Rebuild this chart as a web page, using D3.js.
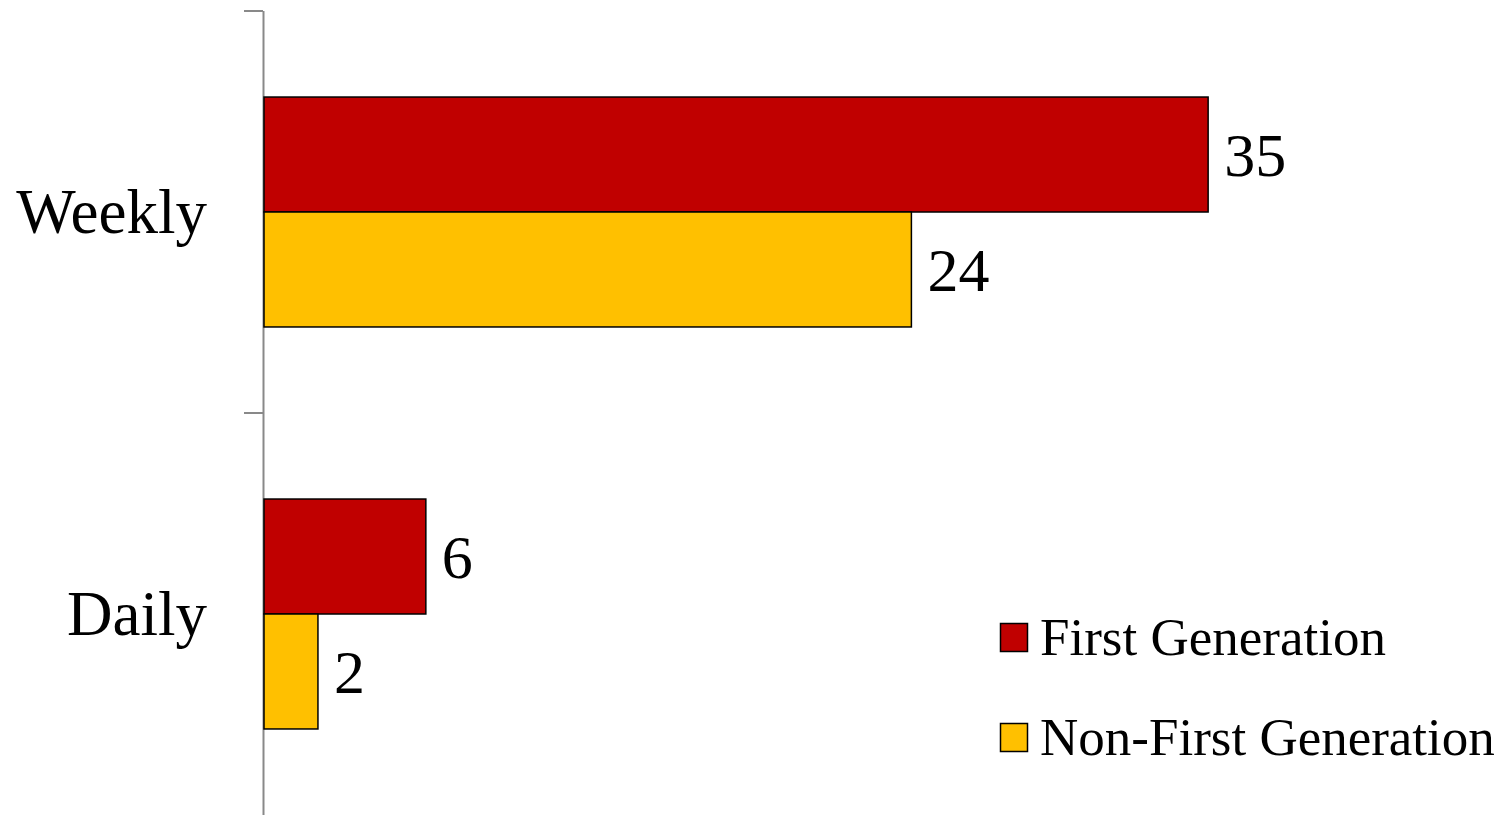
<!DOCTYPE html>
<html><head><meta charset="utf-8">
<script src="https://cdn.jsdelivr.net/npm/d3@7"></script>
<style>html,body{margin:0;padding:0;background:#fff;overflow:hidden}</style>
</head><body>
<svg id="c" width="1503" height="815"></svg>
<script>
const categories = ["Weekly", "Daily"];
const seriesNames = ["First Generation", "Non-First Generation"];
const firstGen = [35, 6];
const nonFirstGen = [24, 2];
const colors = ["#C00000", "#FFC000"];

const svg = d3.select("#c");
const font = "'Liberation Serif','Times New Roman',serif";

const y = d3.scaleBand().domain(categories).range([11, 815]).paddingInner(0.428).paddingOuter(0.214);
const ySub = d3.scaleBand().domain(seriesNames).range([0, y.bandwidth()]);
const x = d3.scaleLinear().domain([0, 40]).range([264, 1343]);

const step = y.step();
const boundaries = categories.map(c => y(c) - y.paddingInner() * step / 2).concat([815]);

// axis
svg.append("line").attr("x1", 263.5).attr("x2", 263.5).attr("y1", 11).attr("y2", 815)
  .attr("stroke", "#898989").attr("stroke-width", 2);
svg.selectAll(".tk").data(boundaries.slice(0, categories.length)).join("line").attr("class", "tk")
  .attr("x1", 244).attr("x2", 263).attr("y1", d => d).attr("y2", d => d)
  .attr("stroke", "#898989").attr("stroke-width", 2);

svg.selectAll(".cat").data(categories).join("text").attr("class", "cat")
  .attr("x", 207)
  .attr("y", (d, i) => (boundaries[i] + boundaries[i + 1]) / 2)
  .attr("dy", "0.33em")
  .attr("text-anchor", "end").attr("font-family", font).attr("font-size", 63).attr("fill", "#000")
  .text(d => d);

const rows = [];
categories.forEach((c, i) => {
  rows.push({cat: c, s: seriesNames[0], v: firstGen[i], col: colors[0]});
  rows.push({cat: c, s: seriesNames[1], v: nonFirstGen[i], col: colors[1]});
});

svg.selectAll(".bar").data(rows).join("rect").attr("class", "bar")
  .attr("x", x(0)).attr("y", d => y(d.cat) + ySub(d.s))
  .attr("width", d => x(d.v) - x(0)).attr("height", ySub.bandwidth())
  .attr("fill", d => d.col).attr("stroke", "#000").attr("stroke-width", 1.5);

svg.selectAll(".lbl").data(rows).join("text").attr("class", "lbl")
  .attr("x", d => x(d.v) + 16).attr("y", d => y(d.cat) + ySub(d.s) + ySub.bandwidth() / 2)
  .attr("dy", "0.35em")
  .attr("font-family", font).attr("font-size", 62).attr("fill", "#000")
  .text(d => d.v);

// legend
const leg = svg.selectAll(".leg").data(seriesNames).join("g").attr("class", "leg")
  .attr("transform", (d, i) => "translate(1000," + (623 + i * 100) + ")");
leg.append("rect").attr("x", 0.5).attr("y", 0.5).attr("width", 27).attr("height", 28)
  .attr("fill", (d, i) => colors[i]).attr("stroke", "#000").attr("stroke-width", 1.5);
leg.append("text").attr("x", 40).attr("y", 32).attr("font-family", font).attr("font-size", 53)
  .attr("fill", "#000").text(d => d);
</script>
</body></html>
